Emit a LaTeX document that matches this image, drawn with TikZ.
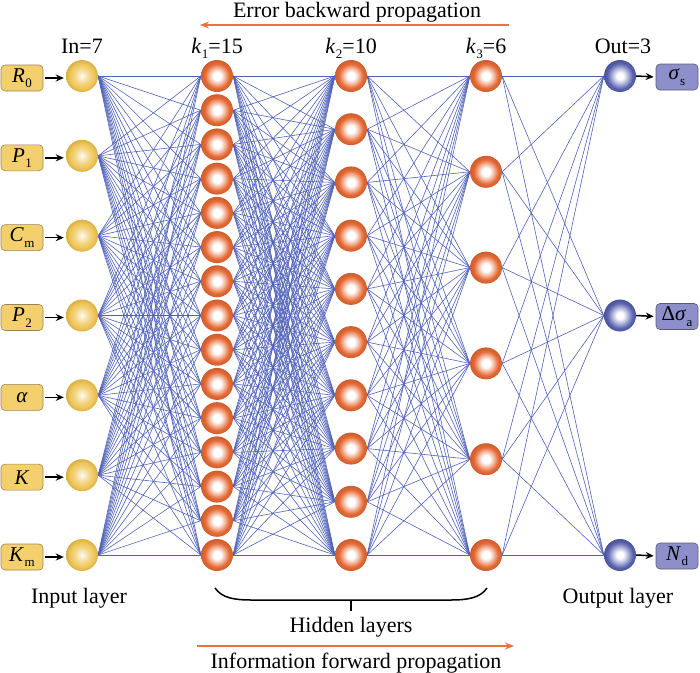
\documentclass[tikz,border=0pt]{standalone}
\usepackage{fontspec}
\setmainfont{Liberation Serif}
\usetikzlibrary{arrows.meta}
\definecolor{edgeblue}{HTML}{5062B8}
\definecolor{inY}{HTML}{EEC352}
\definecolor{hidO}{HTML}{E66A35}
\definecolor{outB}{HTML}{5862AE}
\definecolor{inbox}{HTML}{F3CF6E}
\definecolor{inboxd}{HTML}{9C8650}
\definecolor{outbox}{HTML}{8D8FCB}
\definecolor{outboxd}{HTML}{5A5A70}
\definecolor{arrO}{HTML}{E8733F}
\pgfdeclareradialshading{inball}{\pgfpoint{0bp}{0bp}}{color(0bp)=(white); color(2bp)=(inY!20!white); color(12bp)=(inY!70!white); color(20bp)=(inY); color(25bp)=(inY!90!black); color(50bp)=(inY!90!black)}
\pgfdeclareradialshading{hidball}{\pgfpoint{0bp}{0bp}}{color(0bp)=(white); color(6bp)=(white); color(12bp)=(hidO!45!white); color(19bp)=(hidO); color(25bp)=(hidO!88!black); color(50bp)=(hidO!88!black)}
\pgfdeclareradialshading{outball}{\pgfpoint{0bp}{0bp}}{color(0bp)=(white); color(5bp)=(white); color(12bp)=(outB!45!white); color(20bp)=(outB); color(25bp)=(outB!85!black); color(50bp)=(outB!85!black)}
\pgfdeclarelayer{bg}
\pgfsetlayers{bg,main}
\newcommand{\lsub}[2]{#1\kern0.5pt\raisebox{-0.55ex}{\fontsize{13}{13}\selectfont #2}}
\begin{document}
\begin{tikzpicture}[x=1pt,y=-1pt,
  neuron/.style={circle, minimum size=32, inner sep=0pt},
  inneuron/.style={neuron, shading=inball},
  hidneuron/.style={neuron, shading=hidball},
  outneuron/.style={neuron, shading=outball},
  inlabel/.style={draw=inboxd, fill=inbox, rounded corners=4, minimum width=42, minimum height=26, inner sep=0pt, line width=0.6, font=\fontsize{21}{21}\selectfont},
  outlabel/.style={draw=outboxd, fill=outbox, rounded corners=4, minimum width=42, minimum height=26, inner sep=0pt, line width=0.6, font=\fontsize{21}{21}\selectfont},
  link/.style={edgeblue, line width=0.6},
  feed/.style={black, line width=1.5, -{Stealth[length=8,width=7]}},
  flow/.style={arrO, line width=1.6, -{Stealth[length=9,width=7]}},
  txt/.style={font=\fontsize{22}{22}\selectfont, anchor=base, inner sep=0pt}
]
\useasboundingbox (0,0) rectangle (700,672);
% neurons
\foreach \k in {1,...,7} \node[inneuron] (i\k) at (82,{76+(\k-1)*479/6}) {};
\foreach \k in {1,...,15} \node[hidneuron] (a\k) at (217,{76+(\k-1)*479/14}) {};
\foreach \k in {1,...,10} \node[hidneuron] (b\k) at (351,{76+(\k-1)*479/9}) {};
\foreach \k in {1,...,6} \node[hidneuron] (c\k) at (486,{76+(\k-1)*479/5}) {};
\foreach \k in {1,...,3} \node[outneuron] (o\k) at (620,{76+(\k-1)*479/2}) {};
% links
\begin{pgfonlayer}{bg}
\foreach \p in {1,...,7} \foreach \q in {1,...,15} \draw[link] (i\p.east) -- (a\q.west);
\foreach \p in {1,...,15} \foreach \q in {1,...,10} \draw[link] (a\p.east) -- (b\q.west);
\foreach \p in {1,...,10} \foreach \q in {1,...,6} \draw[link] (b\p.east) -- (c\q.west);
\foreach \p in {1,...,6} \foreach \q in {1,...,3} \draw[link] (c\p.east) -- (o\q.west);
\end{pgfonlayer}
% input labels
\node[inlabel] (l1) at (22,78) {\lsub{\textit{R}}{0}};
\node[inlabel] (l2) at (22,{76+479/6+2}) {\lsub{\textit{P}}{1}};
\node[inlabel] (l3) at (22,{76+2*479/6+2}) {\lsub{\textit{C}}{m}};
\node[inlabel] (l4) at (22,{76+3*479/6+2}) {\lsub{\textit{P}}{2}};
\node[inlabel] (l5) at (22,{76+4*479/6+2}) {\textit{α}};
\node[inlabel] (l6) at (22,{76+5*479/6+2}) {\textit{K}};
\node[inlabel] (l7) at (22,{76+6*479/6+2}) {\lsub{\textit{K}}{m}};
\foreach \k in {1,...,7} \draw[feed, shorten <=2, shorten >=2] (l\k.east) -- (i\k.west |- l\k.east);
% output labels
\node[outlabel] (r1) at (677,77) {\lsub{\textit{σ}}{s}};
\node[outlabel] (r2) at (677,{76+479/2+1}) {\lsub{Δ\textit{σ}}{a}};
\node[outlabel] (r3) at (677,{76+479+1}) {\lsub{\textit{N}}{d}};
\foreach \k in {1,...,3} \draw[feed, shorten <=0, shorten >=2] (o\k.east) -- (r\k.west);
% layer titles
\node[txt] (t0) at (82,53) {In=7};
\node[txt] (t1) at (217,53) {\lsub{\textit{k}}{1}=15};
\node[txt] (t2) at (351,53) {\lsub{\textit{k}}{2}=10};
\node[txt] (t3) at (486,53) {\lsub{\textit{k}}{3}=6};
\node[txt] (t4) at (623,53) {Out=3};
% bottom labels
\node[txt] (bin) at (79,603) {Input layer};
\node[txt] (bout) at (618,603) {Output layer};
\node[txt] (bhid) at (351,632) {Hidden layers};
\node[txt] (bfw) at (356,668) {Information forward propagation};
\node[txt] (bbw) at (357,17) {Error backward propagation};
% propagation arrows
\coordinate (e1) at (509,25);
\coordinate (e2) at (200,25);
\draw[flow] (e1) -- (e2);
\coordinate (f1) at (197,646);
\coordinate (f2) at (514,646);
\draw[flow] (f1) -- (f2);
% brace
\coordinate (br1) at (215,588);
\coordinate (br2) at (487,588);
\coordinate (brm) at (351,600);
\coordinate (brt) at (351,611);
\draw[line width=1.5] (br1) .. controls (222,598) and (234,600) .. (252,600) -- (450,600) .. controls (468,600) and (480,598) .. (br2);
\draw[line width=1.5] (brm) -- (brt);
\end{tikzpicture}
\end{document}
